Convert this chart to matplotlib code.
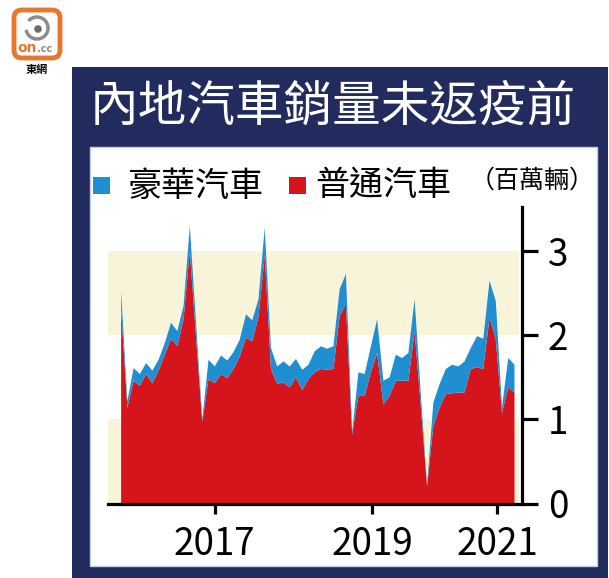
import numpy as np
import matplotlib.pyplot as plt
from matplotlib.patches import Rectangle, FancyBboxPatch, Circle, Arc

plt.rcParams['font.family'] = ['Noto Sans CJK TC', 'DejaVu Sans']

# 每月銷量 (百萬輛), 2016年1月 至 2021年4月
regular = [2.30, 1.14, 1.46, 1.40, 1.54, 1.43, 1.58, 1.77, 1.96, 1.87, 2.19, 3.00,
           1.98, 0.97, 1.48, 1.43, 1.54, 1.49, 1.60, 1.75, 1.97, 1.93, 2.22, 2.95,
           1.60, 1.42, 1.44, 1.38, 1.50, 1.35, 1.48, 1.56, 1.60, 1.59, 1.60, 2.23,
           2.37, 0.82, 1.28, 1.28, 1.56, 1.79, 1.18, 1.28, 1.46, 1.46, 1.46, 2.05,
           1.15, 0.20, 0.92, 1.14, 1.30, 1.31, 1.32, 1.32, 1.60, 1.62, 1.60, 2.21,
           1.95, 1.08, 1.38, 1.32]
luxury = [0.23, 0.08, 0.15, 0.14, 0.13, 0.15, 0.13, 0.14, 0.19, 0.18, 0.16, 0.30,
          0.17, 0.03, 0.23, 0.20, 0.22, 0.21, 0.20, 0.20, 0.28, 0.25, 0.21, 0.33,
          0.25, 0.21, 0.25, 0.25, 0.22, 0.24, 0.17, 0.25, 0.27, 0.25, 0.27, 0.32,
          0.36, 0.03, 0.28, 0.26, 0.31, 0.40, 0.28, 0.22, 0.31, 0.27, 0.33, 0.38,
          0.15, 0.02, 0.28, 0.28, 0.30, 0.34, 0.31, 0.37, 0.25, 0.37, 0.36, 0.44,
          0.46, 0.07, 0.35, 0.33]
months = np.arange(len(regular))

year_ticks = [15.0, 40.2, 60.2]
year_labels = ['2017', '2019', '2021']
y_ticks = [0, 1, 2, 3]

title = '內地汽車銷量未返疫前'
legend_names = ['豪華汽車', '普通汽車']
unit = '（百萬輛）'

red = '#d6141b'
blue = '#1f8fd2'
navy = '#212b5e'
cream = '#f8f4da'
orange = '#e8772e'

W, H = 609, 578
fig = plt.figure(figsize=(W / 100, H / 100), dpi=100)

# 背景層 (像素座標)
bg = fig.add_axes([0, 0, 1, 1], zorder=0)
bg.set_xlim(0, W)
bg.set_ylim(H, 0)
bg.axis('off')

bg.add_patch(Rectangle((72, 67), 536, 511, color=navy, lw=0))
bg.add_patch(Rectangle((90, 147), 507, 419, facecolor='white', edgecolor='#c3cfe8', lw=1))
bg.text(90, 107, title, color='white', fontsize=35, ha='left', va='center')

# 圖例
bg.add_patch(Rectangle((93, 177), 17, 17, color=blue, lw=0))
bg.text(128, 186, legend_names[0], fontsize=24.5, ha='left', va='center')
bg.add_patch(Rectangle((289, 177), 17, 17, color=red, lw=0))
bg.text(315, 186, legend_names[1], fontsize=24.5, ha='left', va='center')
bg.text(470, 181, unit, fontsize=18, ha='left', va='center')

# 東網 logo
bg.add_patch(FancyBboxPatch((14, 10), 46, 48, boxstyle='round,pad=0,rounding_size=8',
                            facecolor='white', edgecolor=orange, lw=3.5))
bg.add_patch(Arc((37, 28), 22, 22, theta1=-140, theta2=170, color='#8c8c8c', lw=2.5))
bg.add_patch(Circle((38, 29), 3.8, color='#6b6b6b', lw=0))
bg.text(37, 48, 'on', color=orange, fontsize=10, fontweight='bold', ha='right', va='center',
        family='DejaVu Sans')
bg.text(37, 49, '.cc', color='#8c8c8c', fontsize=7, fontweight='bold', ha='left', va='center',
        family='DejaVu Sans')
bg.text(37, 70, '東網', fontsize=8, fontweight='bold', ha='center', va='center')

# 主圖
ax = fig.add_axes([108 / W, 1 - 503.5 / H, (522 - 108) / W, (503.5 - 207) / H], zorder=1)
ax.set_facecolor('none')
ax.axhspan(0, 1, xmin=0, xmax=0.993, color=cream, lw=0, zorder=0)
ax.axhspan(2, 3, xmin=0, xmax=0.993, color=cream, lw=0, zorder=0)
ax.stackplot(months, regular, luxury, colors=[red, blue], linewidth=0, zorder=1)

ax.set_xlim(-2.1, 64.2)
ax.set_ylim(0, 3.526)
for side in ['left', 'top']:
    ax.spines[side].set_visible(False)
for side in ['bottom', 'right']:
    ax.spines[side].set_linewidth(2.3)
    ax.spines[side].set_zorder(3)

ax.yaxis.tick_right()
ax.set_yticks(y_ticks)
ax.set_xticks(year_ticks, year_labels)
ax.tick_params(axis='y', direction='out', length=11.5, width=2.3, pad=7, labelsize=26.5)
ax.tick_params(axis='x', direction='out', length=7.5, width=2.3, pad=8, labelsize=26.5)

fig.savefig('out.png', dpi=100)
